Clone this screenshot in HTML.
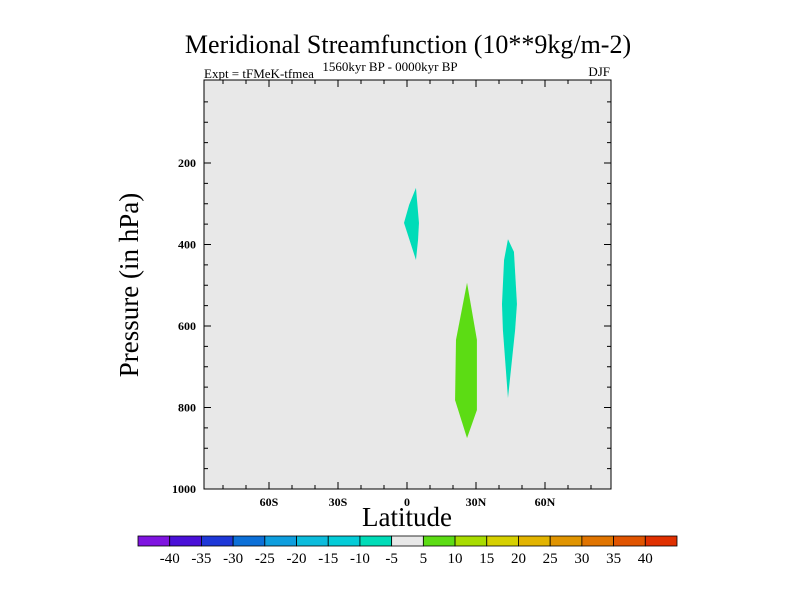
<!DOCTYPE html>
<html><head><meta charset="utf-8"><style>
body{margin:0;background:#fff;}
svg text{font-family:"Liberation Serif",serif;fill:#000;}
</style></head><body>
<svg id="c" width="800" height="600" xmlns="http://www.w3.org/2000/svg">
<text x="408" y="53" font-size="26" text-anchor="middle">Meridional Streamfunction (10**9kg/m-2)</text>
<text x="204" y="78" font-size="13">Expt = tFMeK-tfmea</text>
<text x="390" y="71" font-size="13" text-anchor="middle">1560kyr BP - 0000kyr BP</text>
<text x="610" y="76" font-size="13" text-anchor="end">DJF</text>
<rect x="204" y="80" width="407" height="409" fill="#e8e8e8"/>
<g id="blobs"></g>
<rect x="204" y="80" width="407" height="409" fill="none" stroke="#000" stroke-width="1"/>
<g id="axes"></g>
<text x="407" y="526" font-size="27" text-anchor="middle">Latitude</text>
<text transform="translate(138,285) rotate(-90)" font-size="27" text-anchor="middle">Pressure (in hPa)</text>
<g id="cbar"></g>
</svg>
<script>
const latTicks=[-60,-30,0,30,60];
const latLabels=["60S","30S","0","30N","60N"];
const presTicks=[200,400,600,800,1000];
const blob1Lat=[3.9,5.2,4.8,3.9,-1.3,0.9];
const blob1P=[261,347,389,438,347,303];
const blob2Lat=[43.9,46.5,47.8,47,43.9,41.7,41.3,42.2];
const blob2P=[387,418,546,610,777,610,546,438];
const blob3Lat=[26.1,30.4,30.4,26.1,20.9,21.3];
const blob3P=[494,634,806,875,782,634];
const blobValues=[-7,-7,7];
const cbarLabels=[-40,-35,-30,-25,-20,-15,-10,-5,5,10,15,20,25,30,35,40];
const cbarColors=["#7f14e0","#4a10d8","#1e38d8","#0c70d8","#0e9ede","#0cbcdc","#04ccd8","#00dcb8","#e8e8e8","#5cdc14","#a8dc00","#d6d000","#e2b400","#e09400","#e07400","#e05400","#e03000"];
const NS="http://www.w3.org/2000/svg";
const xs=l=>407+l*2.3, ys=p=>81.5+p*0.4075;
function mk(t,a,p){const e=document.createElementNS(NS,t);for(const k in a)e.setAttribute(k,a[k]);p.appendChild(e);return e;}
function colorFor(v){let i=0;while(i<cbarLabels.length&&v>cbarLabels[i])i++;return cbarColors[i];}
const bg=document.getElementById('blobs');
[[blob1Lat,blob1P],[blob2Lat,blob2P],[blob3Lat,blob3P]].forEach((b,i)=>{
 const pts=b[0].map((l,j)=>xs(l)+","+ys(b[1][j])).join(" ");
 const e=mk('polygon',{points:pts,fill:colorFor(blobValues[i])},bg);
 
 
});
const ax=document.getElementById('axes');
for(let l=-80;l<=80;l+=10){const x=xs(l);const maj=l%30===0;const L=maj?7:4;
 mk('line',{x1:x,x2:x,y1:489,y2:489-L,stroke:'#000'},ax);mk('line',{x1:x,x2:x,y1:80,y2:80+L,stroke:'#000'},ax);}
latTicks.forEach((l,i)=>{const t=mk('text',{x:xs(l),y:506,'font-size':12,'font-weight':'bold','text-anchor':'middle'},ax);t.textContent=latLabels[i];
 
 });
for(let p=50;p<=950;p+=50){const y=ys(p);const maj=p%200===0;const L=maj?7:4;
 mk('line',{x1:204,x2:204+L,y1:y,y2:y,stroke:'#000'},ax);mk('line',{x1:611,x2:611-L,y1:y,y2:y,stroke:'#000'},ax);}
presTicks.forEach(p=>{const t=mk('text',{x:196,y:Math.min(ys(p),489)+4,'font-size':12,'font-weight':'bold','text-anchor':'end'},ax);t.textContent=p;
 
 });
const cb=document.getElementById('cbar');const bw=539/cbarColors.length;
cbarColors.forEach((c,i)=>{const r=mk('rect',{x:138+i*bw,y:536,width:bw,height:10,fill:c,stroke:'#000','stroke-width':0.8},cb);
 
 });
cbarLabels.forEach((v,i)=>{const t=mk('text',{x:138+(i+1)*bw,y:563,'font-size':15,'text-anchor':'middle'},cb);t.textContent=v;
 
 });
</script>
</body></html>
